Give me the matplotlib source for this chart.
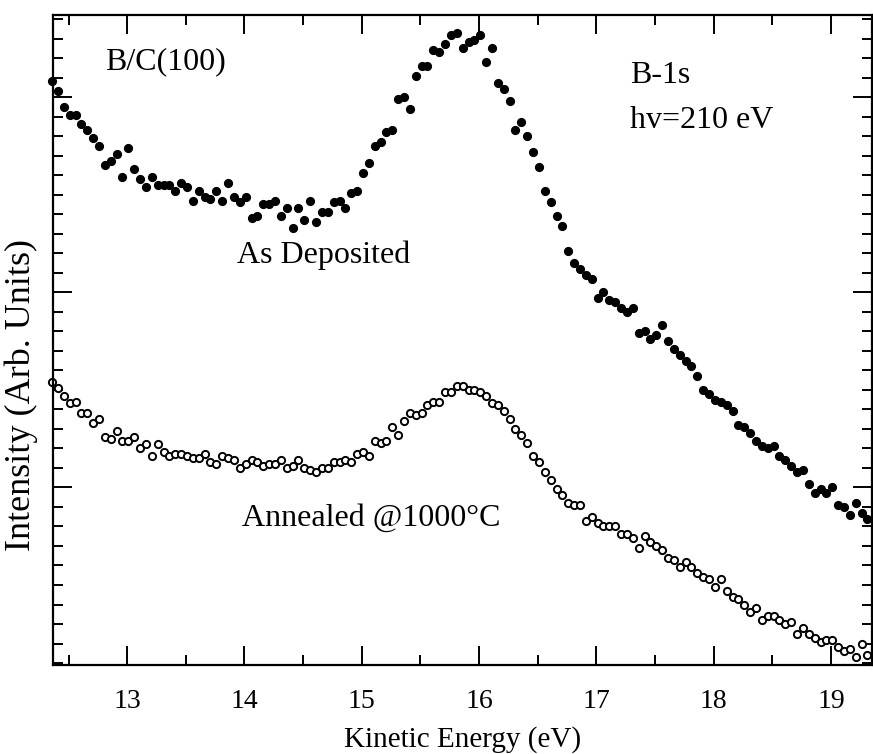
import numpy as np
import matplotlib.pyplot as plt
from matplotlib.ticker import MultipleLocator, NullFormatter

plt.rcParams['font.family'] = ['Liberation Serif', 'DejaVu Serif']

# --- Data ---
# energy grid: 0.05 eV steps starting at 12.36 eV
E_START = 12.36
E_STEP = 0.05

as_deposited = [
    3.08, 3.03, 2.95, 2.91, 2.91, 2.86, 2.83, 2.79, 2.75, 2.65,
    2.67, 2.71, 2.59, 2.74, 2.63, 2.58, 2.54, 2.59, 2.55, 2.55,
    2.55, 2.52, 2.56, 2.54, 2.47, 2.52, 2.49, 2.48, 2.52, 2.47,
    2.56, 2.49, 2.46, 2.49, 2.38, 2.39, 2.45, 2.45, 2.47, 2.39,
    2.43, 2.33, 2.43, 2.37, 2.47, 2.36, 2.41, 2.41, 2.46, 2.47,
    2.43, 2.51, 2.52, 2.61, 2.66, 2.75, 2.77, 2.82, 2.83, 2.99,
    3.00, 2.94, 3.11, 3.16, 3.16, 3.24, 3.23, 3.27, 3.32, 3.33,
    3.25, 3.28, 3.29, 3.32, 3.18, 3.25, 3.07, 3.04, 2.98, 2.83,
    2.87, 2.80, 2.72, 2.64, 2.52, 2.46, 2.39, 2.34, 2.21, 2.15,
    2.12, 2.09, 2.07, 1.97, 2.00, 1.96, 1.95, 1.92, 1.90, 1.92,
    1.79, 1.80, 1.76, 1.78, 1.83, 1.75, 1.71, 1.68, 1.65, 1.62,
    1.57, 1.50, 1.48, 1.45, 1.44, 1.42, 1.39, 1.32, 1.31, 1.28,
    1.24, 1.21, 1.20, 1.21, 1.16, 1.14, 1.11, 1.08, 1.09, 1.02,
    0.97, 0.99, 0.97, 1.00, 0.91, 0.90, 0.86, 0.92, 0.87, 0.84,
]

annealed = [
    1.54, 1.51, 1.47, 1.43, 1.44, 1.38, 1.38, 1.33, 1.35, 1.26,
    1.25, 1.29, 1.24, 1.24, 1.26, 1.20, 1.22, 1.16, 1.22, 1.18,
    1.16, 1.17, 1.17, 1.16, 1.15, 1.15, 1.17, 1.13, 1.12, 1.16,
    1.15, 1.14, 1.10, 1.12, 1.14, 1.13, 1.11, 1.12, 1.12, 1.14,
    1.10, 1.11, 1.14, 1.10, 1.09, 1.08, 1.10, 1.10, 1.13, 1.13,
    1.14, 1.13, 1.17, 1.18, 1.16, 1.24, 1.23, 1.24, 1.31, 1.27,
    1.34, 1.38, 1.37, 1.38, 1.42, 1.44, 1.44, 1.49, 1.49, 1.52,
    1.52, 1.50, 1.50, 1.49, 1.47, 1.43, 1.42, 1.39, 1.35, 1.30,
    1.27, 1.23, 1.16, 1.13, 1.08, 1.04, 0.99, 0.96, 0.92, 0.91,
    0.91, 0.83, 0.85, 0.82, 0.80, 0.80, 0.80, 0.76, 0.76, 0.74,
    0.69, 0.75, 0.72, 0.70, 0.68, 0.64, 0.63, 0.59, 0.62, 0.59,
    0.56, 0.54, 0.53, 0.49, 0.53, 0.47, 0.44, 0.43, 0.40, 0.36,
    0.38, 0.32, 0.34, 0.34, 0.32, 0.30, 0.31, 0.25, 0.28, 0.25,
    0.23, 0.21, 0.22, 0.22, 0.18, 0.16, 0.17, 0.13, 0.20, 0.14,
]

energy = E_START + E_STEP * np.arange(len(as_deposited))

# --- Figure ---
fig = plt.figure(figsize=(8.73, 7.54), dpi=100)
ax = fig.add_axes([0.061, 0.118, 0.938, 0.862])

ax.plot(energy, as_deposited, 'o', color='black', markersize=5.6,
        clip_on=False)
ax.plot(energy, annealed, 'o', markerfacecolor='white',
        markeredgecolor='black', markersize=5.2, markeredgewidth=1.4,
        clip_on=False)

ax.set_xlim(12.37, 19.35)
ax.set_ylim(0.09, 3.42)

ax.xaxis.set_major_locator(MultipleLocator(1))
ax.xaxis.set_minor_locator(MultipleLocator(0.5))
ax.yaxis.set_major_locator(MultipleLocator(1))
ax.yaxis.set_minor_locator(MultipleLocator(0.1))
ax.yaxis.set_major_formatter(NullFormatter())

ax.tick_params(which='both', direction='in', top=True, right=True,
               width=1.4)
ax.tick_params(which='major', length=14)
ax.tick_params(which='minor', length=7)
ax.tick_params(axis='x', labelsize=20, pad=17)
for sp in ax.spines.values():
    sp.set_linewidth(1.6)

ax.set_xlabel('Kinetic Energy (eV)', fontsize=21, va='baseline')
ax.xaxis.set_label_coords(0.5, -0.126)
ax.set_ylabel('Intensity (Arb. Units)', fontsize=26)
ax.yaxis.set_label_coords(-0.019, 0.415)

ax.text(12.81, 3.18, 'B/C(100)', fontsize=23, va='center')
ax.text(17.29, 3.11, 'B-1s', fontsize=23, va='center')
ax.text(17.29, 2.88, 'hv=210 eV', fontsize=23, va='center')
ax.text(13.94, 2.19, 'As Deposited', fontsize=23, va='center')
ax.text(13.98, 0.84, 'Annealed @1000°C', fontsize=23, va='center')

fig.savefig('out.png', dpi=100)
